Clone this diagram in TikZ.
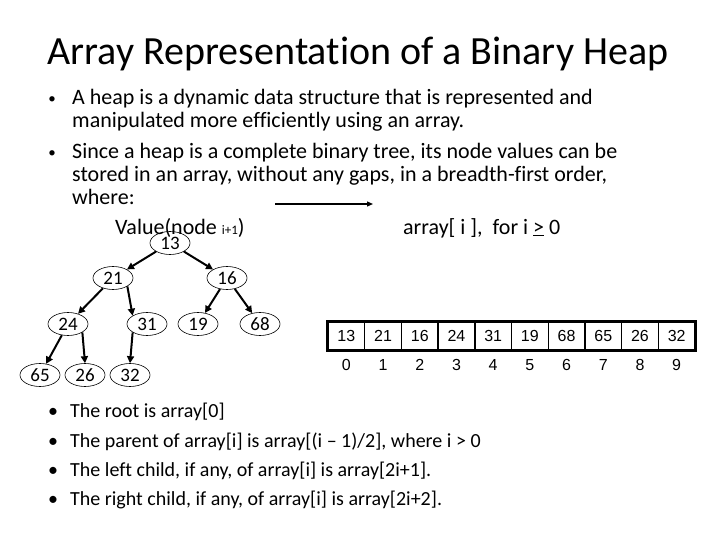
\documentclass[tikz,border=0pt]{standalone}
\usepackage{fontspec}
\setmainfont{Carlito}[Ligatures=NoCommon]
\newfontfamily\arialf{Liberation Sans}
\usetikzlibrary{shapes.geometric,arrows.meta}
\tikzset{
  hnode/.style={ellipse,draw,line width=0.6pt,minimum width=40pt,minimum height=23pt,inner sep=0pt,font=\fontsize{19}{19}\selectfont},
  harrow/.style={line width=2pt,-{Triangle[length=7pt,width=7pt]}},
  txt/.style={anchor=base west,inner sep=0pt,font=\fontsize{22}{23}\selectfont},
  btxt/.style={anchor=base west,inner sep=0pt,font=\fontsize{20}{21}\selectfont},
  bul/.style={anchor=base,inner sep=0pt,font=\fontsize{15}{15}\selectfont},
  bbul/.style={anchor=base,inner sep=0pt,font=\fontsize{20}{20}\selectfont},
  cell/.style={draw,line width=1.4pt,minimum width=36.7pt,minimum height=28pt,inner sep=0pt,text height=11.5pt,text depth=0pt,font=\arialf\fontsize{16}{16}\selectfont},
  idx/.style={inner sep=0pt,text height=11.5pt,text depth=0pt,font=\arialf\fontsize{16}{16}\selectfont}
}
\begin{document}
\begin{tikzpicture}[x=1pt,y=-1pt]
\useasboundingbox (0,0) rectangle (720,540);
\node[anchor=base,inner sep=0pt,font=\fontsize{40}{41}\selectfont] (title) at (358,65) {Array Representation of a Binary Heap};
% top bullets
\node[bul] (b1) at (52,104) {\textbullet};
\node[txt] (t1a) at (72,105) {A heap is a dynamic data structure that is represented and};
\node[txt] (t1b) at (72,128) {manipulated more efficiently using an array.};
\node[bul] (b2) at (52,158) {\textbullet};
\node[txt] (t2a) at (72,159) {Since a heap is a complete binary tree, its node values can be};
\node[txt] (t2b) at (72,182) {stored in an array, without any gaps, in a breadth-first order,};
\node[txt] (t2c) at (72,205) {where:};
\coordinate (ma) at (275,204);
\coordinate (mb) at (373,204);
\draw[line width=1.3pt,-{Triangle[length=6pt,width=5pt]}] (ma) -- (mb);
% tree
\node[hnode] (n13) at (170,243) {13};
\node[hnode] (n21) at (113,278) {21};
\node[hnode] (n16) at (227,278) {16};
\node[hnode] (n24) at (68,324) {24};
\node[hnode] (n31) at (147,324) {31};
\node[hnode] (n19) at (198,324) {19};
\node[hnode] (n68) at (260,324) {68};
\node[hnode] (n65) at (40,375) {65};
\node[hnode] (n26) at (85,375) {26};
\node[hnode] (n32) at (130,375) {32};
\draw[harrow] (n13) -- (n21);
\draw[harrow] (n13) -- (n16);
\draw[harrow] (n21) -- (n24);
\draw[harrow] (n21.south east) -- (n31.north west);
\draw[harrow] (n16) -- (n19);
\draw[harrow] (n16) -- (n68);
\draw[harrow] (n24) -- (n65);
\draw[harrow] (n24.south east) -- (n26.north);
\draw[harrow] (n31.south west) -- (n32.north);
\node[txt] (val) at (115,234) {Value(node {\fontsize{13}{13}\selectfont i+1})};
\node[txt] (arr) at (403,234) {array[ i ],\ \ for i \underline{>} 0};
% array
\foreach \v [count=\i from 0] in {13,21,16,24,31,19,68,65,26,32} {
  \node[cell] (c\i) at ({346.35+36.7*\i},336) {\v};
  \node[idx] (i\i) at ({346.35+36.7*\i},365) {\i};
}
\draw[line width=2.2pt] (c0.north west) rectangle (c9.south east);
% bottom bullets
\node[bbul] (d1) at (53,417) {\textbullet};
\node[btxt] (u1) at (70,417) {The root is array[0]};
\node[bbul] (d2) at (53,447) {\textbullet};
\node[btxt] (u2) at (70,447) {The parent of array[i] is array[(i -- 1)/2], where i > 0};
\node[bbul] (d3) at (53,476) {\textbullet};
\node[btxt] (u3) at (70,476) {The left child, if any, of array[i] is array[2i+1].};
\node[bbul] (d4) at (53,505) {\textbullet};
\node[btxt] (u4) at (70,505) {The right child, if any, of array[i] is array[2i+2].};
\end{tikzpicture}
\end{document}
